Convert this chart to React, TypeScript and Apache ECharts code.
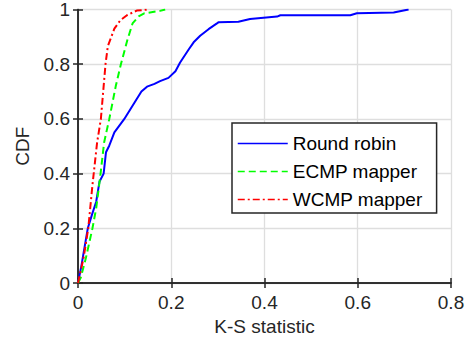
import React, { useEffect, useRef } from "react";
import * as echarts from "echarts";

const xTicks = [0, 0.2, 0.4, 0.6, 0.8];
const yTicks = [0, 0.2, 0.4, 0.6, 0.8, 1];

const roundRobinX = [0, 0.007, 0.013, 0.021, 0.03, 0.039, 0.046, 0.055, 0.06, 0.067, 0.078, 0.099, 0.121, 0.136, 0.148, 0.164, 0.176, 0.194, 0.209, 0.219, 0.237, 0.248, 0.262, 0.28, 0.298, 0.301, 0.344, 0.369, 0.427, 0.434, 0.584, 0.598, 0.677, 0.709];
const roundRobinY = [0, 0.06, 0.12, 0.2, 0.25, 0.297, 0.37, 0.4, 0.478, 0.502, 0.551, 0.599, 0.659, 0.7, 0.718, 0.728, 0.738, 0.75, 0.774, 0.806, 0.853, 0.88, 0.904, 0.928, 0.949, 0.953, 0.955, 0.965, 0.974, 0.979, 0.979, 0.986, 0.989, 1.0];

const ecmpX = [0, 0.006, 0.017, 0.031, 0.039, 0.048, 0.056, 0.067, 0.081, 0.092, 0.106, 0.117, 0.13, 0.142, 0.176, 0.187];
const ecmpY = [0, 0.02, 0.092, 0.2, 0.273, 0.394, 0.514, 0.599, 0.72, 0.8, 0.889, 0.949, 0.975, 0.986, 0.995, 1.0];

const wcmpX = [0, 0.012, 0.022, 0.031, 0.041, 0.049, 0.059, 0.064, 0.078, 0.091, 0.105, 0.126, 0.151];
const wcmpY = [0, 0.092, 0.2, 0.358, 0.514, 0.599, 0.8, 0.866, 0.93, 0.961, 0.979, 0.996, 1.0];

const seriesNames = ["Round robin", "ECMP mapper", "WCMP mapper"];

const pairs = (xs: number[], ys: number[]) => xs.map((x, i) => [x, ys[i]]);

const FONT = "'Liberation Sans', Arial, Helvetica, sans-serif";
const AX = "#262626";
const FS = 19;

export default function App() {
  const ref = useRef<HTMLDivElement>(null);
  useEffect(() => {
    if (!ref.current) return;
    const chart = echarts.init(ref.current, undefined, { renderer: "svg" });
    const hiddenAxis = {
      min: 0,
      axisLabel: { show: false },
      axisLine: { show: true, lineStyle: { color: AX, width: 1.5 } },
      axisTick: { show: true, inside: true, length: 5, lineStyle: { color: AX, width: 1.5 } },
      splitLine: { show: false },
    };
    chart.setOption({
      animation: false,
      backgroundColor: "#ffffff",
      textStyle: { fontFamily: FONT },
      grid: { left: 78, right: 17, top: 6, bottom: 68, containLabel: false },
      xAxis: [
        {
          type: "value",
          min: 0,
          max: 0.8,
          interval: 0.2,
          name: "K-S statistic",
          nameLocation: "middle",
          nameGap: 34,
          nameTextStyle: { fontSize: FS, color: AX, fontFamily: FONT },
          axisLabel: { fontSize: FS, color: AX, margin: 10, fontFamily: FONT },
          axisLine: { show: true, onZero: false, lineStyle: { color: AX, width: 1.5 } },
          axisTick: { show: true, inside: true, length: 5, lineStyle: { color: AX, width: 1.5 } },
          splitLine: { show: true, lineStyle: { color: "#dedede", width: 1.3 } },
        },
        { type: "value", position: "top", max: 0.8, interval: 0.2, ...hiddenAxis },
      ],
      yAxis: [
        {
          type: "value",
          min: 0,
          max: 1,
          interval: 0.2,
          name: "CDF",
          nameLocation: "middle",
          nameGap: 46,
          nameTextStyle: { fontSize: FS, color: AX, fontFamily: FONT },
          axisLabel: { fontSize: FS, color: AX, margin: 8, fontFamily: FONT },
          axisLine: { show: true, onZero: false, lineStyle: { color: AX, width: 1.5 } },
          axisTick: { show: true, inside: true, length: 5, lineStyle: { color: AX, width: 1.5 } },
          splitLine: { show: true, lineStyle: { color: "#dedede", width: 1.3 } },
        },
        { type: "value", position: "right", max: 1, interval: 0.2, ...hiddenAxis },
      ],
      legend: {
        orient: "vertical",
        left: 232,
        top: 123,
        padding: [11, 14, 4, 5],
        itemGap: 9,
        itemWidth: 50,
        itemHeight: 20,
        borderColor: AX,
        borderWidth: 1.5,
        borderRadius: 0,
        backgroundColor: "#ffffff",
        itemStyle: { opacity: 0 },
        lineStyle: { width: 1.5 },
        textStyle: { fontSize: FS, color: "#000000", fontFamily: FONT, padding: [0, 0, 0, 0] },
        data: seriesNames.map((n) => ({ name: n })),
      },
      series: [
        {
          name: seriesNames[0],
          type: "line",
          data: pairs(roundRobinX, roundRobinY),
          symbol: "none",
          lineStyle: { color: "#0000ff", width: 2 },
          itemStyle: { color: "#0000ff" },
          z: 3,
        },
        {
          name: seriesNames[1],
          type: "line",
          data: pairs(ecmpX, ecmpY),
          symbol: "none",
          lineStyle: { color: "#00ff00", width: 2, type: [7, 4] },
          itemStyle: { color: "#00ff00" },
          z: 4,
        },
        {
          name: seriesNames[2],
          type: "line",
          data: pairs(wcmpX, wcmpY),
          symbol: "none",
          lineStyle: { color: "#ff0000", width: 2, type: [7, 3, 2, 3] },
          itemStyle: { color: "#ff0000" },
          z: 5,
        },
      ],
    });
    return () => chart.dispose();
  }, []);
  return <div ref={ref} style={{ width: 468, height: 351, position: "absolute", left: 0, top: 0 }} />;
}
